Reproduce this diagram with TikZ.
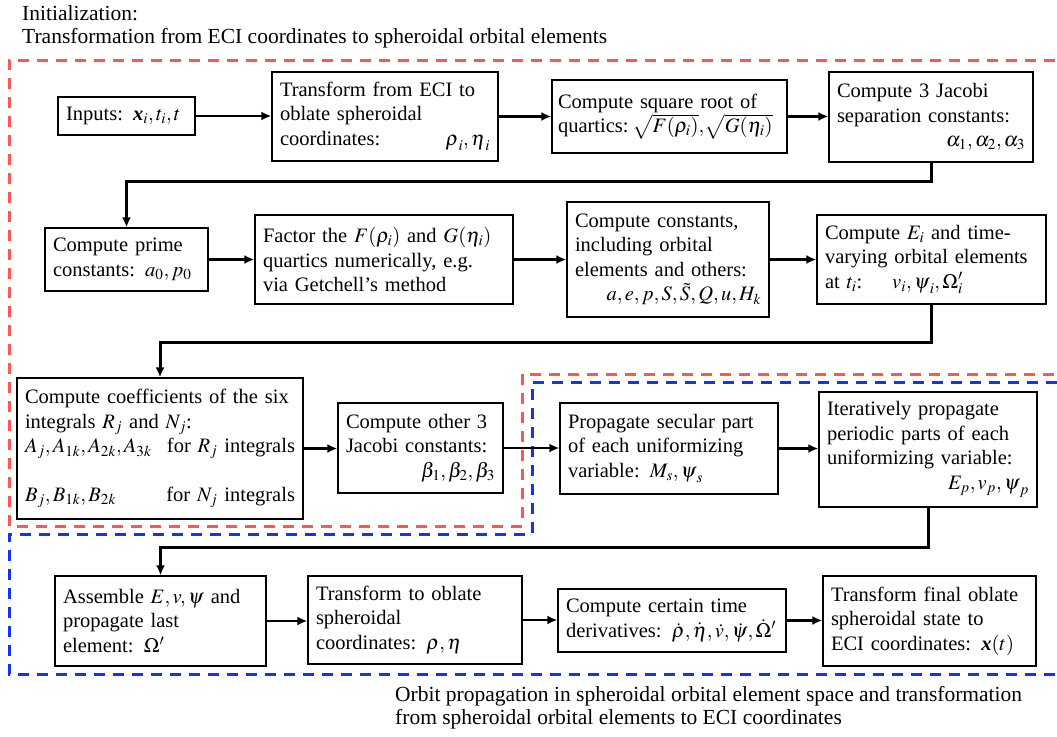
\documentclass[tikz,border=0pt]{standalone}
\usepackage{amsmath}
\usepackage{mathptmx}
\usepackage{fontspec}
\setmainfont{Liberation Serif}
\usetikzlibrary{positioning,arrows.meta}
\definecolor{dashred}{RGB}{255,85,85}
\definecolor{dashblue}{RGB}{20,50,245}
\tikzset{
  box/.style={draw, line width=1.3pt, inner xsep=8pt, inner ysep=2pt, align=left,
              font=\fontsize{20.5}{24.5}\selectfont},
  fwd/.style={-{Latex[length=10pt,width=9pt]}, line width=2.6pt},
  link/.style={-{Latex[length=10pt,width=9pt]}, line width=3pt}, % elbow connectors between rows
  region/.style={dash pattern=on 11pt off 8pt, line width=3pt},
  notetext/.style={inner sep=0pt, align=left, font=\fontsize{21.5}{23}\selectfont},
}
\newcommand{\bvec}[1]{\mbox{\bfseries\itshape #1}}
\newcommand{\pushright}{\hspace{\fill}}

\begin{document}
\begin{tikzpicture}[x=1pt,y=-1pt]
  \useasboundingbox (0,0) rectangle (1057,736);

  % dashed regions
  \draw[region, dashred] (1055,60) -- (9,60) -- (9,526) -- (522,526) -- (522,374) -- (1055,374);
  \draw[region, dashblue] (1057,382) -- (532,382) -- (532,534) -- (9,534) -- (9,674) -- (1057,674);

  \node[notetext, anchor=north west] (title) at (22,5) {Initialization:\\Transformation from ECI coordinates to spheroidal orbital elements};
  \node[notetext, anchor=north west] (footer) at (395,686) {Orbit propagation in spheroidal orbital element space and transformation\\from spheroidal orbital elements to ECI coordinates};

  % row 1
  \node[box, text width=121pt, minimum height=38pt] (inputs) at (126.5,116) {Inputs: $\bvec{x}_i,t_i,t$};
  \node[box, text width=210pt, minimum height=89pt] (toeci) at (385,116.5) {Transform from ECI to\\oblate spheroidal\\coordinates:\pushright$\boldsymbol{\rho}_i,\boldsymbol{\eta}_i$};
  \node[box, inner xsep=6pt, text width=223pt, minimum height=73pt] (sqroot) at (669.5,116.5) {Compute square root of\\\mbox{quartics:\,$\sqrt{F(\rho_i)},\!\sqrt{G(\eta_i)}$}};
  \node[box, text width=188pt, minimum height=90pt] (jacobi) at (931,117) {Compute 3 Jacobi\\separation constants:\\\pushright$\alpha_1,\alpha_2,\alpha_3$\pushright};

  % row 2
  \node[box, text width=147pt, minimum height=63pt] (prime) at (126.5,259.5) {Compute prime\\constants: $a_0,p_0$};
  \node[box, text width=242pt, minimum height=89pt] (factor) at (384,259.5) {Factor the $F(\rho_i)$ and $G(\eta_i)$\\quartics numerically, e.g.\\via Getchell's method};
  \node[box, text width=186pt, minimum height=115pt] (consts) at (668,259.5) {Compute constants,\\including orbital\\elements and others:\\\pushright$a,e,p,S,\tilde{S},Q,u,H_k$\pushright};
  \node[box, text width=213pt, minimum height=89pt] (epoch) at (931.5,259.5) {Compute $E_i$ and time-\\varying orbital elements\\at $t_i$:\hspace{30pt}$v_i,\boldsymbol{\psi}_i,\Omega'_i$};

  % row 3
  \node[box, text width=270pt, minimum height=141pt] (coeff) at (160,448.5) {Compute coefficients of the six\\integrals $R_j$ and $N_j$:\\$A_j,A_{1k},A_{2k},A_{3k}$\pushright for $R_j$ integrals\\[24pt]$B_j,B_{1k},B_{2k}$\pushright for $N_j$ integrals};
  \node[box, text width=149pt, minimum height=90pt] (beta) at (420.5,448) {Compute other 3\\Jacobi constants:\\\pushright$\beta_1,\beta_2,\beta_3$\pushright};
  \node[box, text width=202pt, minimum height=91pt] (secular) at (669,448.5) {Propagate secular part\\of each uniformizing\\variable: $M_s,\boldsymbol{\psi}_s$};
  \node[box, text width=202pt, minimum height=115pt] (periodic) at (928,449.5) {Iteratively propagate\\periodic parts of each\\uniformizing variable:\\\pushright$E_p,v_p,\boldsymbol{\psi}_p$\pushright};

  % row 4
  \node[box, text width=195pt, minimum height=90pt] (assemble) at (160.5,621) {Assemble $E,v,\psi$ and\\propagate last\\element: $\Omega'$};
  \node[box, text width=198pt, minimum height=88pt] (tooblate) at (415,620) {Transform to oblate\\spheroidal\\coordinates: $\boldsymbol{\rho},\boldsymbol{\eta}$};
  \node[box, text width=212pt, minimum height=63pt] (deriv) at (672,620.5) {Compute certain time\\derivatives: $\dot{\rho},\dot{\eta},\dot{v},\dot{\psi},\dot{\Omega}'$};
  \node[box, text width=197pt, minimum height=90pt] (final) at (929.5,621) {Transform final oblate\\spheroidal state to\\ECI coordinates: $\bvec{x}(t)$};

  % arrows within rows
  \draw[fwd] (inputs.east) -- (inputs.east -| toeci.west);
  \draw[fwd] (toeci.east) -- (toeci.east -| sqroot.west);
  \draw[fwd] (sqroot.east) -- (sqroot.east -| jacobi.west);
  \draw[fwd] (prime.east) -- (prime.east -| factor.west);
  \draw[fwd] (factor.east) -- (factor.east -| consts.west);
  \draw[fwd] (consts.east) -- (consts.east -| epoch.west);
  \draw[fwd] (coeff.east) -- (coeff.east -| beta.west);
  \draw[fwd] (beta.east) -- (beta.east -| secular.west);
  \draw[fwd] (secular.east) -- (secular.east -| periodic.west);
  \draw[fwd] (assemble.east) -- (assemble.east -| tooblate.west);
  \draw[fwd] (tooblate.east) -- (tooblate.east -| deriv.west);
  \draw[fwd] (deriv.east) -- (deriv.east -| final.west);

  % connectors between rows
  \draw[link] (jacobi.south) -- ++(0,19) -| (prime.north);
  \draw[link] (epoch.south) -- ++(0,38) -| (coeff.north);
  \draw[link] (periodic.south) -- ++(0,40) -| (assemble.north);
\end{tikzpicture}
\end{document}
